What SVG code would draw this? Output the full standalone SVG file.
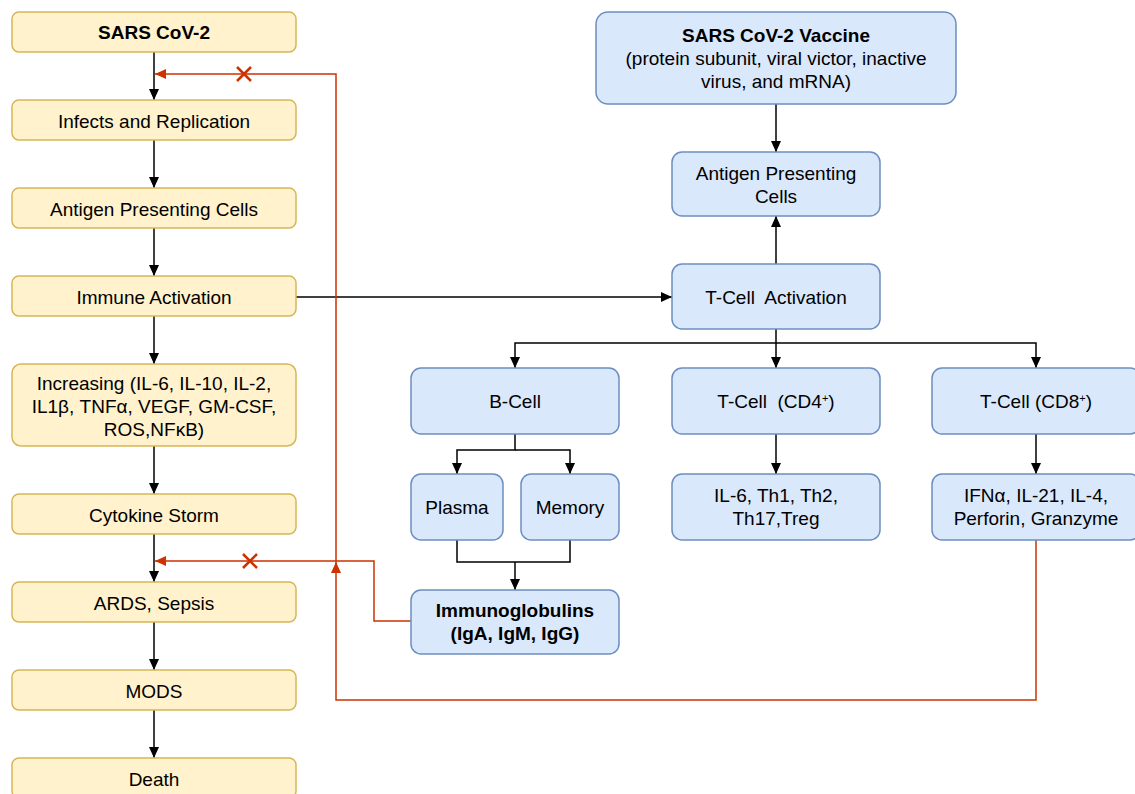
<svg xmlns="http://www.w3.org/2000/svg" width="1135" height="794" viewBox="0 0 1135 794">
<style>
.y{fill:#fff2cc;stroke:#d6b656;stroke-width:1.5}
.b{fill:#dae8fc;stroke:#6c8ebf;stroke-width:1.5}
text{font-family:"Liberation Sans",Arial,Helvetica,sans-serif;font-size:19px;fill:#000;text-anchor:middle}
.bold{font-weight:bold}
.k{fill:none;stroke:#000;stroke-width:1.5}
.r{fill:none;stroke:#cc3300;stroke-width:1.5}
.x{stroke:#cc3300;stroke-width:2.5}
</style>
<defs>
<marker id="ak" markerUnits="userSpaceOnUse" markerWidth="13" markerHeight="13" viewBox="0 0 13 13" refX="12" refY="6.5" orient="auto"><path d="M1,1.5 L12,6.5 L1,11.5 Z" fill="#000"/></marker>
<marker id="ar" markerUnits="userSpaceOnUse" markerWidth="13" markerHeight="13" viewBox="0 0 13 13" refX="12" refY="6.5" orient="auto"><path d="M1,1.5 L12,6.5 L1,11.5 Z" fill="#cc3300"/></marker>
</defs>
<g id="connectors">
<path class="k" d="M154,52 V100" marker-end="url(#ak)"/>
<path class="k" d="M154,140 V188" marker-end="url(#ak)"/>
<path class="k" d="M154,228 V276" marker-end="url(#ak)"/>
<path class="k" d="M154,316 V364" marker-end="url(#ak)"/>
<path class="k" d="M154,446 V494" marker-end="url(#ak)"/>
<path class="k" d="M154,534 V582" marker-end="url(#ak)"/>
<path class="k" d="M154,622 V670" marker-end="url(#ak)"/>
<path class="k" d="M154,710 V758" marker-end="url(#ak)"/>
<path class="k" d="M296,297 H672" marker-end="url(#ak)"/>
<path class="k" d="M776,104 V152" marker-end="url(#ak)"/>
<path class="k" d="M776,264 V216" marker-end="url(#ak)"/>
<path class="k" d="M776,329 V343 H515 V368" marker-end="url(#ak)"/>
<path class="k" d="M776,343 V368" marker-end="url(#ak)"/>
<path class="k" d="M776,343 H1036 V368" marker-end="url(#ak)"/>
<path class="k" d="M515,434 V450 H457 V474" marker-end="url(#ak)"/>
<path class="k" d="M515,450 H570 V474" marker-end="url(#ak)"/>
<path class="k" d="M776,434 V474" marker-end="url(#ak)"/>
<path class="k" d="M1036,434 V474" marker-end="url(#ak)"/>
<path class="k" d="M457,540 V562 H570 V540"/>
<path class="k" d="M515,562 V590" marker-end="url(#ak)"/>
<path class="r" d="M1036,540 V700 H336 V562" marker-end="url(#ar)"/>
<path class="r" d="M336,562 V74 H155" marker-end="url(#ar)"/>
<path class="r" d="M411,621 H374 V561 H155" marker-end="url(#ar)"/>
<path class="x" d="M237,67 L251,81 M251,67 L237,81"/>
<path class="x" d="M243,554 L257,568 M257,554 L243,568"/>
</g>
<g id="n-sars"><rect class="y" x="12" y="12" width="284" height="40" rx="7"/><text class="bold" x="154" y="39">SARS CoV-2</text></g>
<g id="n-infects"><rect class="y" x="12" y="100" width="284" height="40" rx="7"/><text x="154" y="128">Infects and Replication</text></g>
<g id="n-apc-left"><rect class="y" x="12" y="188" width="284" height="40" rx="7"/><text x="154" y="216">Antigen Presenting Cells</text></g>
<g id="n-immune"><rect class="y" x="12" y="276" width="284" height="40" rx="7"/><text x="154" y="304">Immune Activation</text></g>
<g id="n-increasing"><rect class="y" x="12" y="364" width="284" height="82" rx="9"/><text x="154" y="390">Increasing (IL-6, IL-10, IL-2,</text><text x="154" y="413">IL1β, TNFα, VEGF, GM-CSF,</text><text x="154" y="436">ROS,NFκB)</text></g>
<g id="n-cytokine"><rect class="y" x="12" y="494" width="284" height="40" rx="7"/><text x="154" y="522">Cytokine Storm</text></g>
<g id="n-ards"><rect class="y" x="12" y="582" width="284" height="40" rx="7"/><text x="154" y="610">ARDS, Sepsis</text></g>
<g id="n-mods"><rect class="y" x="12" y="670" width="284" height="40" rx="7"/><text x="154" y="698">MODS</text></g>
<g id="n-death"><rect class="y" x="12" y="758" width="284" height="40" rx="7"/><text x="154" y="786">Death</text></g>
<g id="n-vaccine"><rect class="b" x="596" y="12" width="360" height="92" rx="12"/><text class="bold" x="776" y="42">SARS CoV-2 Vaccine</text><text x="776" y="65">(protein subunit, viral victor, inactive</text><text x="776" y="88">virus, and mRNA)</text></g>
<g id="n-apc-right"><rect class="b" x="672" y="152" width="208" height="64" rx="10"/><text x="776" y="180">Antigen Presenting</text><text x="776" y="203">Cells</text></g>
<g id="n-tcell-act"><rect class="b" x="672" y="264" width="208" height="65" rx="10"/><text x="776" y="304" xml:space="preserve">T-Cell  Activation</text></g>
<g id="n-bcell"><rect class="b" x="411" y="368" width="208" height="66" rx="10"/><text x="515" y="408">B-Cell</text></g>
<g id="n-cd4"><rect class="b" x="672" y="368" width="208" height="66" rx="10"/><text x="776" y="408" xml:space="preserve">T-Cell  (CD4<tspan font-size="11" dy="-6">+</tspan><tspan dy="6">)</tspan></text></g>
<g id="n-cd8"><rect class="b" x="932" y="368" width="208" height="66" rx="10"/><text x="1036" y="408">T-Cell (CD8<tspan font-size="11" dy="-6">+</tspan><tspan dy="6">)</tspan></text></g>
<g id="n-plasma"><rect class="b" x="411" y="474" width="92" height="66" rx="10"/><text x="457" y="514">Plasma</text></g>
<g id="n-memory"><rect class="b" x="521" y="474" width="98" height="66" rx="10"/><text x="570" y="514">Memory</text></g>
<g id="n-il6"><rect class="b" x="672" y="474" width="208" height="66" rx="10"/><text x="776" y="502">IL-6, Th1, Th2,</text><text x="776" y="525">Th17,Treg</text></g>
<g id="n-ifn"><rect class="b" x="932" y="474" width="208" height="66" rx="10"/><text x="1036" y="502">IFNα, IL-21, IL-4,</text><text x="1036" y="525">Perforin, Granzyme</text></g>
<g id="n-ig"><rect class="b" x="411" y="590" width="208" height="64" rx="10"/><text class="bold" x="515" y="617">Immunoglobulins</text><text class="bold" x="515" y="640">(IgA, IgM, IgG)</text></g>
</svg>
